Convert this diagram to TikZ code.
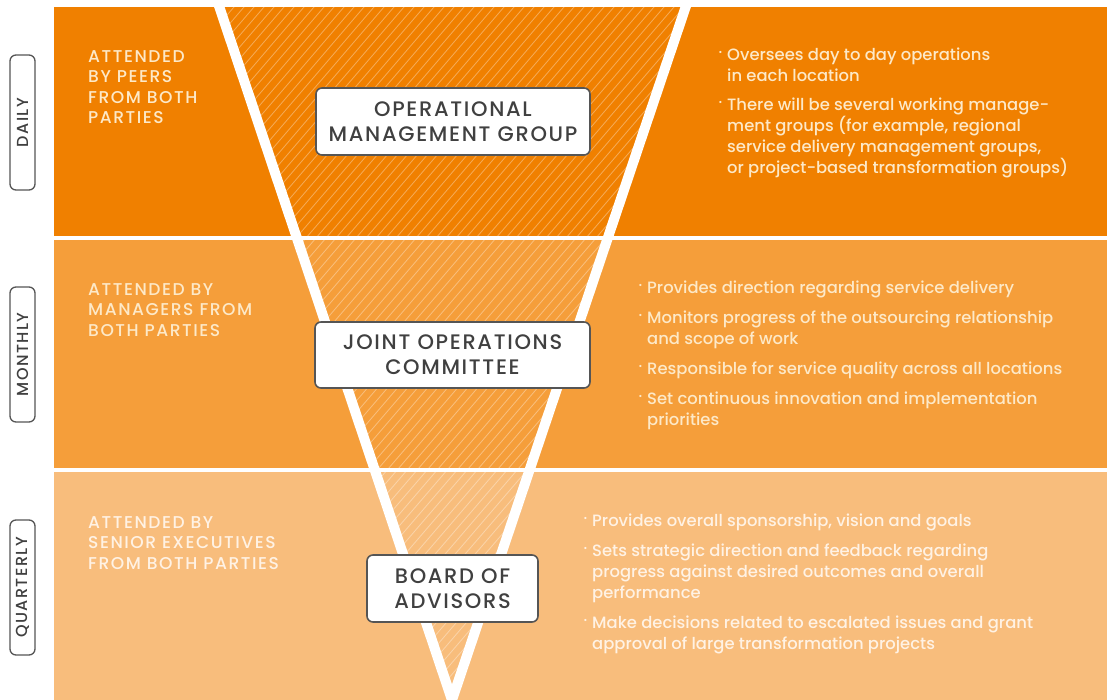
\documentclass[tikz,border=0pt]{standalone}
\usepackage{fontspec}
\setmainfont{Poppins Medium}
\newfontfamily\capsfont[LetterSpace=9]{Poppins Medium}
\newfontfamily\boxfont[LetterSpace=8]{Poppins Medium}
\definecolor{bandA}{RGB}{240,128,0}
\definecolor{bandB}{RGB}{245,158,58}
\definecolor{bandC}{RGB}{248,189,124}
\definecolor{creamA}{RGB}{253,233,200}
\definecolor{creamC}{RGB}{255,242,228}
\definecolor{darktext}{RGB}{64,64,64}
\definecolor{edgegray}{RGB}{85,85,85}
\tikzset{
  hatch/.style={white, opacity=0.35, line width=0.8pt},
  vline/.style={white, line width=10pt, line join=miter},
  periodbox/.style={draw=edgegray, line width=1.3pt, rounded corners=6pt, fill=white,
    minimum width=135pt, minimum height=25pt, inner sep=0pt, rotate=90,
    text=darktext, font=\capsfont\fontsize{16}{16}\selectfont},
  groupbox/.style={draw=edgegray, line width=1.6pt, rounded corners=6pt, fill=white,
    inner sep=0pt, align=center, text=darktext,
    font=\boxfont\fontsize{21}{25}\selectfont},
  leftnote/.style={anchor=north west, inner sep=0pt, align=left,
    font=\capsfont\fontsize{17.1}{20.5}\selectfont},
  rightnote/.style={anchor=north west, inner sep=0pt, align=left,
    font=\fontsize{16.4}{21}\selectfont},
}
\newcommand{\bul}{\llap{\raisebox{3pt}{\fontsize{15}{15}\selectfont·}\hspace{5pt}}}
\begin{document}
\begin{tikzpicture}[x=1pt, y=-1pt]
\useasboundingbox (0,0) rectangle (1107,700);
% bands
\fill[bandA] (54,7) rectangle (1107,236);
\fill[bandB] (54,240) rectangle (1107,468);
\fill[bandC] (54,472) rectangle (1107,700);
% hatching inside the funnel
\begin{scope}
  \clip (219,7) -- (452,700) -- (686,7) -- cycle;
  \foreach \x in {-420,-410,...,700} \draw[hatch] (\x,700) -- (\x+600,0);
\end{scope}
\fill[white] (54,236) rectangle (1107,240);
\fill[white] (54,468) rectangle (1107,472);
% funnel edges
\coordinate (tl) at (217,0);
\coordinate (apex) at (452,700);
\coordinate (tr) at (688,0);
\draw[vline] (tl) -- (apex) -- (tr);
% period labels
\node[periodbox] (daily) at (22.5,122.5) {DAILY};
\node[periodbox] (monthly) at (22.5,354.5) {MONTHLY};
\node[periodbox] (quarterly) at (22.5,587.5) {QUARTERLY};
% group boxes
\node[groupbox, minimum width=274pt, minimum height=67pt] (omg) at (453,121.5) {OPERATIONAL\\MANAGEMENT GROUP};
\node[groupbox, minimum width=275pt, minimum height=66pt] (joc) at (452.5,355) {JOINT OPERATIONS\\COMMITTEE};
\node[groupbox, minimum width=171pt, minimum height=67pt] (boa) at (452.5,588.5) {BOARD OF\\ADVISORS};
% left notes
\node[leftnote, text=creamA] (attA) at (88,50) {ATTENDED\\BY PEERS\\FROM BOTH\\PARTIES};
\node[leftnote, text=creamA] (attB) at (88,283) {ATTENDED BY\\MANAGERS FROM\\BOTH PARTIES};
\node[leftnote, text=creamC] (attC) at (88,516) {ATTENDED BY\\SENIOR EXECUTIVES\\FROM BOTH PARTIES};
% right notes, daily
\node[rightnote, text=creamA] (dA1) at (727,48) {\bul Oversees day to day operations\\in each location};
\node[rightnote, text=creamA] (dA2) at (727,98) {\bul There will be several working manage-\\ment groups (for example, regional\\service delivery management groups,\\or project-based transformation groups)};
% right notes, monthly
\node[rightnote, text=creamA] (mB1) at (647,281) {\bul Provides direction regarding service delivery};
\node[rightnote, text=creamA] (mB2) at (647,311) {\bul Monitors progress of the outsourcing relationship\\and scope of work};
\node[rightnote, text=creamA] (mB3) at (647,362) {\bul Responsible for service quality across all locations};
\node[rightnote, text=creamA] (mB4) at (647,392) {\bul Set continuous innovation and implementation\\priorities};
% right notes, quarterly
\node[rightnote, text=creamC] (qC1) at (592,514) {\bul Provides overall sponsorship, vision and goals};
\node[rightnote, text=creamC] (qC2) at (592,544) {\bul Sets strategic direction and feedback regarding\\progress against desired outcomes and overall\\performance};
\node[rightnote, text=creamC] (qC3) at (592,616) {\bul Make decisions related to escalated issues and grant\\approval of large transformation projects};
\end{tikzpicture}
\end{document}
